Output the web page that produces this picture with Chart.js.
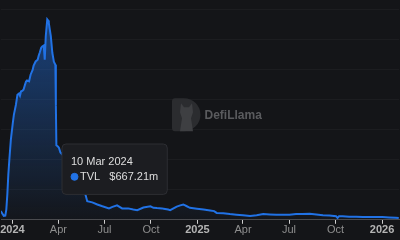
<!DOCTYPE html>
<html>
<head>
<meta charset="utf-8">
<script src="https://cdn.jsdelivr.net/npm/chart.js@4.4.1/dist/chart.umd.min.js"></script>
<style>
  html, body { margin:0; padding:0; background:#141518; }
  #wrap { width:400px; height:240px; position:relative; }
</style>
</head>
<body>
<div id="wrap"><canvas id="tvlChart"></canvas></div>
<script>
const dates = [
  '2023-12-09','2023-12-12','2023-12-15','2023-12-18','2023-12-20','2023-12-22','2023-12-24','2023-12-26','2023-12-29',
  '2024-01-02','2024-01-04','2024-01-08','2024-01-11','2024-01-14','2024-01-16','2024-01-18','2024-01-21','2024-01-23',
  '2024-01-26','2024-01-28','2024-01-30','2024-02-03','2024-02-06','2024-02-10','2024-02-12','2024-02-16','2024-02-20',
  '2024-02-22','2024-02-24','2024-02-27','2024-02-29','2024-03-03','2024-03-05','2024-03-07','2024-03-10','2024-03-12',
  '2024-03-13','2024-03-15','2024-03-17','2024-03-20','2024-03-23','2024-03-26','2024-03-27','2024-03-28','2024-03-31',
  '2024-04-02','2024-04-05','2024-04-09','2024-04-11','2024-04-17','2024-04-25','2024-05-05','2024-05-15','2024-05-21',
  '2024-05-23','2024-05-25','2024-05-28','2024-06-07','2024-06-17','2024-06-27','2024-07-10','2024-07-17','2024-07-26',
  '2024-08-05','2024-08-17','2024-08-27','2024-09-04','2024-09-16','2024-09-30','2024-10-06','2024-10-13','2024-10-23',
  '2024-10-26','2024-11-04','2024-11-08','2024-11-21','2024-11-28','2024-12-04','2024-12-10','2024-12-17','2024-12-31',
  '2025-01-13','2025-01-26','2025-02-03','2025-02-08','2025-02-21','2025-03-06','2025-03-19','2025-04-01','2025-04-15',
  '2025-04-28','2025-05-11','2025-05-24','2025-06-06','2025-06-19','2025-07-02','2025-07-15','2025-07-28','2025-08-11',
  '2025-08-24','2025-09-06','2025-09-19','2025-10-02','2025-10-05','2025-10-08','2025-10-15','2025-10-28','2025-11-11',
  '2025-11-24','2025-12-07','2025-12-20','2026-01-02','2026-01-15','2026-01-28','2026-02-03'
];
// TVL in millions of USD
const tvl = [
  29, 21, 13, 14, 34, 84, 151, 200, 267,
  324, 350, 383, 416, 420, 413, 427, 430, 433,
  450, 460, 464, 461, 483, 499, 513, 527, 533,
  546, 556, 573, 577, 580, 533, 611, 667.21, 663,
  655, 633, 611, 556, 526, 516, 380, 248, 244,
  240, 224, 217, 234, 227, 207, 184, 141, 101,
  90, 81, 62, 58, 51, 45, 38, 43, 48,
  38, 38, 34, 32, 41, 45, 40, 39, 38,
  37, 34, 32, 44, 48, 51, 46, 40, 37,
  34, 31, 29, 23, 22, 19, 17, 15, 13,
  15, 19, 18, 17, 17, 17, 19, 19, 20,
  18, 15, 14, 12, 6, 12, 12, 10, 10,
  9, 9, 9, 9, 8, 7, 6
];
const tickDates  = ['2024-01-01','2024-04-01','2024-07-01','2024-10-01','2025-01-01','2025-04-01','2025-07-01','2025-10-01','2026-01-01'];
const tickLabels = ['2024','Apr','Jul','Oct','2025','Apr','Jul','Oct','2026'];
const hoverDate  = '2024-03-10';
const MONTHS = ['Jan','Feb','Mar','Apr','May','Jun','Jul','Aug','Sep','Oct','Nov','Dec'];

const toTs = s => Date.parse(s + 'T00:00:00Z');
const points = dates.map((d, i) => ({ x: toTs(d), y: tvl[i] }));

Chart.defaults.font.family = "'Liberation Sans', Arial, sans-serif";
Chart.Tooltip.positioners.fixedBox = function() { return { x: 66, y: 144 }; };

const watermark = {
  id: 'watermark',
  beforeDatasetsDraw(chart) {
    const { ctx, chartArea: a } = chart;
    const cx = (a.left + a.right) / 2, cy = (a.top + a.bottom) / 2;
    ctx.save();
    // logo: rounded "D"
    const lx = cx - 28, ly = cy - 16.5, r = 16.5;
    ctx.fillStyle = '#2b2c2f';
    ctx.beginPath();
    ctx.moveTo(lx + 3, ly);
    ctx.lineTo(lx + 12, ly);
    ctx.arc(lx + 12, ly + r, r, -Math.PI / 2, Math.PI / 2);
    ctx.lineTo(lx + 3, ly + 2 * r);
    ctx.quadraticCurveTo(lx, ly + 2 * r, lx, ly + 2 * r - 3);
    ctx.lineTo(lx, ly + 3);
    ctx.quadraticCurveTo(lx, ly, lx + 3, ly);
    ctx.fill();
    // llama silhouette
    ctx.fillStyle = '#3e3f42';
    ctx.beginPath();
    ctx.moveTo(lx + 9, ly + 5);
    ctx.lineTo(lx + 12, ly + 9);
    ctx.lineTo(lx + 17, ly + 9);
    ctx.lineTo(lx + 20, ly + 5);
    ctx.lineTo(lx + 21, ly + 14);
    ctx.lineTo(lx + 19, ly + 20);
    ctx.lineTo(lx + 21, ly + 33);
    ctx.lineTo(lx + 8, ly + 33);
    ctx.lineTo(lx + 10, ly + 20);
    ctx.lineTo(lx + 8, ly + 14);
    ctx.closePath();
    ctx.fill();
    ctx.fillStyle = '#5a5b5e';
    ctx.font = 'bold 12px "Liberation Sans", Arial, sans-serif';
    ctx.textBaseline = 'middle';
    ctx.fillText('DefiLlama', cx + 4.5, cy + 1.5);
    ctx.restore();
  }
};

const chart = new Chart(document.getElementById('tvlChart'), {
  type: 'line',
  data: {
    datasets: [{
      label: 'TVL',
      data: points,
      borderColor: '#2172e5',
      borderWidth: 2,
      pointRadius: 0,
      pointHoverRadius: 0,
      tension: 0,
      fill: 'origin',
      backgroundColor: ctx => {
        const a = ctx.chart.chartArea;
        if (!a) return 'transparent';
        const g = ctx.chart.ctx.createLinearGradient(0, a.top, 0, a.bottom);
        g.addColorStop(0, 'rgba(33,114,229,0.5)');
        g.addColorStop(1, 'rgba(33,114,229,0.02)');
        return g;
      }
    }]
  },
  options: {
    responsive: true, maintainAspectRatio: false, animation: false,
    events: [],
    layout: { padding: { top: 9.5, bottom: 3, left: 0, right: 0 } },
    plugins: {
      legend: { display: false },
      tooltip: {
        position: 'fixedBox', xAlign: 'left', yAlign: 'top',
        caretSize: 0, caretPadding: 0, cornerRadius: 4,
        backgroundColor: '#1c1d21', borderColor: '#2d2e33', borderWidth: 1,
        titleColor: '#dedede', bodyColor: '#dedede',
        titleFont: { size: 11, weight: 'normal' }, bodyFont: { size: 11 },
        titleMarginBottom: 2,
        padding: { top: 11, bottom: 11, left: 9, right: 9 },
        usePointStyle: true, boxWidth: 7, boxHeight: 7,
        multiKeyBackground: '#1c1d21',
        callbacks: {
          title: items => {
            const d = new Date(items[0].parsed.x);
            return d.getUTCDate() + ' ' + MONTHS[d.getUTCMonth()] + ' ' + d.getUTCFullYear();
          },
          label: item => 'TVL   $' + item.parsed.y.toFixed(2) + 'm',
          labelColor: () => ({ borderColor: '#2172e5', backgroundColor: '#2172e5' }),
          labelPointStyle: () => ({ pointStyle: 'circle', rotation: 0 })
        }
      }
    },
    scales: {
      x: {
        type: 'linear',
        min: Date.UTC(2023, 11, 9, 12),
        max: Date.UTC(2026, 1, 3, 12),
        afterBuildTicks: scale => { scale.ticks = tickDates.map(d => ({ value: toTs(d) })); },
        ticks: {
          autoSkip: false, maxRotation: 0, padding: 0,
          callback: (v, i) => tickLabels[i],
          color: ctx => /^\d{4}$/.test(tickLabels[ctx.index]) ? '#b4b4b4' : '#8e8e8e',
          font: ctx => ({ size: 11, weight: /^\d{4}$/.test(tickLabels[ctx.index]) ? 'bold' : 'normal' })
        },
        grid: { drawOnChartArea: false, drawTicks: true, tickLength: 4, tickColor: '#cfcfcf' },
        border: { display: true, color: '#4a4b4e', width: 1 }
      },
      y: {
        min: 0, max: 700,
        ticks: { display: false, stepSize: 100 },
        grid: { color: 'rgba(255,255,255,0.035)', drawTicks: false },
        border: { display: false }
      }
    }
  },
  plugins: [watermark]
});

const hoverIdx = dates.indexOf(hoverDate);
chart.tooltip.setActiveElements([{ datasetIndex: 0, index: hoverIdx }], { x: 0, y: 0 });
chart.update('none');
</script>
</body>
</html>
